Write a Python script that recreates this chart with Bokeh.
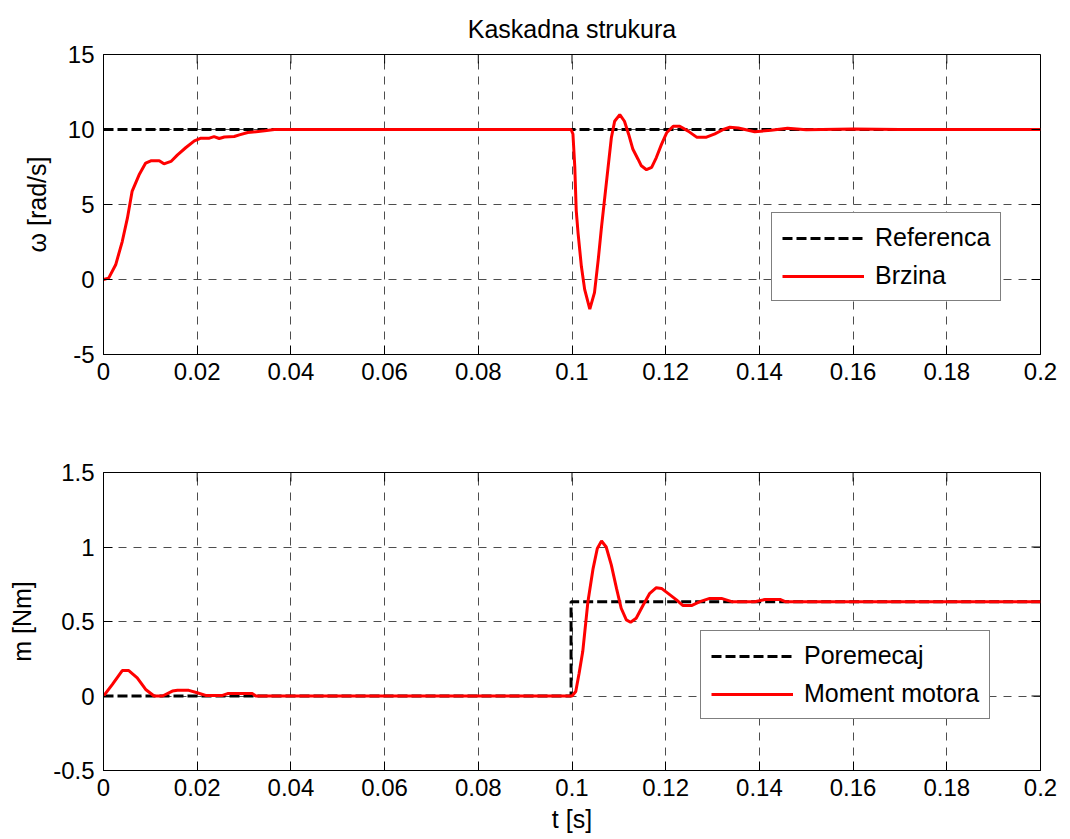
from bokeh.plotting import figure
from bokeh.models import Range1d, FixedTicker, Legend, LegendItem
from bokeh.layouts import column
from bokeh.embed import file_html
from bokeh.resources import INLINE

# ---------------- data ----------------
title_text = "Kaskadna strukura"
x_ticks = [0.0, 0.02, 0.04, 0.06, 0.08, 0.1, 0.12, 0.14, 0.16, 0.18, 0.2]
x_tick_labels = ["0", "0.02", "0.04", "0.06", "0.08", "0.1", "0.12", "0.14", "0.16", "0.18", "0.2"]
w_ticks = [-5, 0, 5, 10, 15]
w_tick_labels = ["-5", "0", "5", "10", "15"]
m_ticks = [-0.5, 0.0, 0.5, 1.0, 1.5]
m_tick_labels = ["-0.5", "0", "0.5", "1", "1.5"]

# reference speed
ref_t = [0.0, 0.2]
ref_w = [10.0, 10.0]

# measured speed (Brzina)
speed_t = [0.0, 0.0011, 0.0026, 0.004, 0.0051, 0.0061, 0.0076, 0.009, 0.0101, 0.0119,
           0.0129, 0.0144, 0.0158, 0.0176, 0.0194, 0.0208, 0.0226, 0.0236, 0.0247, 0.0258,
           0.0279, 0.029, 0.0308, 0.0344, 0.0365, 0.0998, 0.1002, 0.1006, 0.1009, 0.1013,
           0.102, 0.1027, 0.1038, 0.1048, 0.1056, 0.1063, 0.107, 0.1077, 0.1084, 0.1091,
           0.1102, 0.1112, 0.1121, 0.113, 0.1141, 0.1148, 0.1159, 0.117, 0.118, 0.1191,
           0.1202, 0.1216, 0.123, 0.1248, 0.1266, 0.1287, 0.1305, 0.1323, 0.1337, 0.1355,
           0.139, 0.1425, 0.146, 0.15, 0.16, 0.17, 0.2]
speed_w = [0.0, 0.09, 0.98, 2.53, 4.09, 5.87, 6.98, 7.76, 7.91, 7.91,
           7.71, 7.87, 8.31, 8.8, 9.24, 9.42, 9.42, 9.53, 9.4, 9.5,
           9.53, 9.64, 9.8, 9.91, 10.0, 10.0, 9.7, 7.47, 4.61, 3.08,
           0.88, -0.66, -1.98, -0.88, 1.32, 3.51, 5.49, 7.47, 9.45, 10.55,
           10.99, 10.55, 9.67, 8.68, 8.02, 7.58, 7.32, 7.47, 8.13, 9.01,
           9.78, 10.22, 10.22, 9.89, 9.49, 9.49, 9.71, 10.0, 10.15, 10.1,
           9.85, 9.95, 10.08, 9.98, 10.03, 10.0, 10.0]

# load disturbance (Poremecaj)
dist_t = [0.0, 0.0998, 0.0998, 0.2]
dist_m = [0.0, 0.0, 0.633, 0.633]

# motor torque (Moment motora)
torque_t = [0.0, 0.0019, 0.004, 0.0054, 0.0072, 0.009, 0.0108, 0.0126, 0.0147, 0.0158,
            0.0182, 0.02, 0.0218, 0.0254, 0.0265, 0.0318, 0.0325, 0.1, 0.1008, 0.1015,
            0.1023, 0.1034, 0.1045, 0.1054, 0.1063, 0.1073, 0.1084, 0.1095, 0.1105, 0.1116,
            0.1125, 0.1137, 0.1152, 0.1166, 0.118, 0.1191, 0.1205, 0.1223, 0.1237, 0.1255,
            0.1273, 0.1294, 0.1319, 0.1341, 0.139, 0.1412, 0.1444, 0.1455, 0.2]
torque_m = [0.0, 0.078, 0.171, 0.171, 0.122, 0.044, 0.0, 0.0, 0.033, 0.038,
            0.038, 0.022, 0.004, 0.004, 0.016, 0.016, 0.0, 0.0, 0.03, 0.15,
            0.3, 0.633, 0.855, 0.99, 1.04, 1.0, 0.878, 0.722, 0.589, 0.511,
            0.495, 0.522, 0.611, 0.689, 0.727, 0.722, 0.689, 0.645, 0.607, 0.607,
            0.633, 0.655, 0.655, 0.633, 0.633, 0.648, 0.648, 0.633, 0.633]

FONT = "Liberation Sans"
TICK_SIZE = "24px"
LABEL_SIZE = "25px"
FRAME_W = 937
FRAME_H = 300
TICK_LEN = 9


def style(p, yticks, ylabels, ylabel, xlabel=None):
    p.outline_line_color = "black"
    p.outline_line_width = 1
    p.xaxis.ticker = FixedTicker(ticks=x_ticks)
    p.xaxis.major_label_overrides = dict(zip(x_ticks, x_tick_labels))
    p.yaxis.ticker = FixedTicker(ticks=yticks)
    p.yaxis.major_label_overrides = dict(zip(yticks, ylabels))
    for ax in list(p.xaxis) + list(p.yaxis):
        ax.major_tick_in = TICK_LEN
        ax.major_tick_out = 0
        ax.minor_tick_in = 0
        ax.minor_tick_out = 0
        ax.axis_line_color = "black"
        ax.major_tick_line_color = "black"
        ax.major_label_text_font = FONT
        ax.major_label_text_font_size = TICK_SIZE
        ax.major_label_text_color = "black"
        ax.axis_label_text_font = FONT
        ax.axis_label_text_font_size = LABEL_SIZE
        ax.axis_label_text_font_style = "normal"
        ax.axis_label_text_color = "black"
    p.yaxis.major_label_standoff = 9
    p.yaxis.axis_label = ylabel
    p.yaxis.axis_label_standoff = 14
    p.xaxis.major_label_standoff = 8
    if xlabel:
        p.xaxis.axis_label = xlabel
        p.xaxis.axis_label_standoff = 6
    p.xgrid.ticker = FixedTicker(ticks=x_ticks)
    p.ygrid.ticker = FixedTicker(ticks=yticks)
    for g in (p.xgrid, p.ygrid):
        g.grid_line_color = "#3a3a3a"
        g.grid_line_width = 1
        g.grid_line_dash = "8 7"
        g.grid_line_alpha = 0.9
    # MATLAB-style box: inward ticks on the top and right edges too
    x0, x1 = p.x_range.start, p.x_range.end
    y0, y1 = p.y_range.start, p.y_range.end
    dy = TICK_LEN * (y1 - y0) / FRAME_H
    dx = TICK_LEN * (x1 - x0) / FRAME_W
    p.segment(x0=x_ticks, y0=[y1] * len(x_ticks), x1=x_ticks, y1=[y1 - dy] * len(x_ticks),
              line_color="black", line_width=1)
    p.segment(x0=[x1] * len(yticks), y0=yticks, x1=[x1 - dx] * len(yticks), y1=yticks,
              line_color="black", line_width=1)


def make_legend(items, loc):
    return Legend(items=items, location=loc, margin=0, padding=10, spacing=9,
                  glyph_width=82, glyph_height=28, label_height=28, label_standoff=11,
                  label_text_font=FONT, label_text_font_size=LABEL_SIZE,
                  label_text_color="black", border_line_color="black",
                  border_line_width=1, background_fill_color="white",
                  background_fill_alpha=1.0)


# ---------------- top plot ----------------
p1 = figure(width=1070, height=418, x_range=Range1d(0, 0.2), y_range=Range1d(-5, 15),
            output_backend="svg", toolbar_location=None,
            min_border_left=103, min_border_right=30, min_border_top=54, min_border_bottom=64)
p1.title.text = title_text
p1.title.align = "center"
p1.title.text_font = FONT
p1.title.text_font_size = LABEL_SIZE
p1.title.text_font_style = "normal"
p1.title.text_color = "black"
p1.title.standoff = 23

r_ref = p1.line(ref_t, ref_w, line_color="black", line_width=3, line_dash="10 4")
r_speed = p1.line(speed_t, speed_w, line_color="red", line_width=3)
style(p1, w_ticks, w_tick_labels, "ω [rad/s]")
p1.add_layout(make_legend([LegendItem(label="Referenca", renderers=[r_ref]),
                           LegendItem(label="Brzina", renderers=[r_speed])], (668, 53)))

# ---------------- bottom plot ----------------
p2 = figure(width=1070, height=421, x_range=Range1d(0, 0.2), y_range=Range1d(-0.5, 1.5),
            output_backend="svg", toolbar_location=None,
            min_border_left=103, min_border_right=30, min_border_top=54, min_border_bottom=69)
r_dist = p2.line(dist_t, dist_m, line_color="black", line_width=3, line_dash="10 4")
r_torque = p2.line(torque_t, torque_m, line_color="red", line_width=3)
style(p2, m_ticks, m_tick_labels, "m [Nm]", xlabel="t [s]")
p2.add_layout(make_legend([LegendItem(label="Poremecaj", renderers=[r_dist]),
                           LegendItem(label="Moment motora", renderers=[r_torque])], (597, 51)))

layout = column(p1, p2, spacing=0)
open("out.html", "w").write(file_html(layout, INLINE))
